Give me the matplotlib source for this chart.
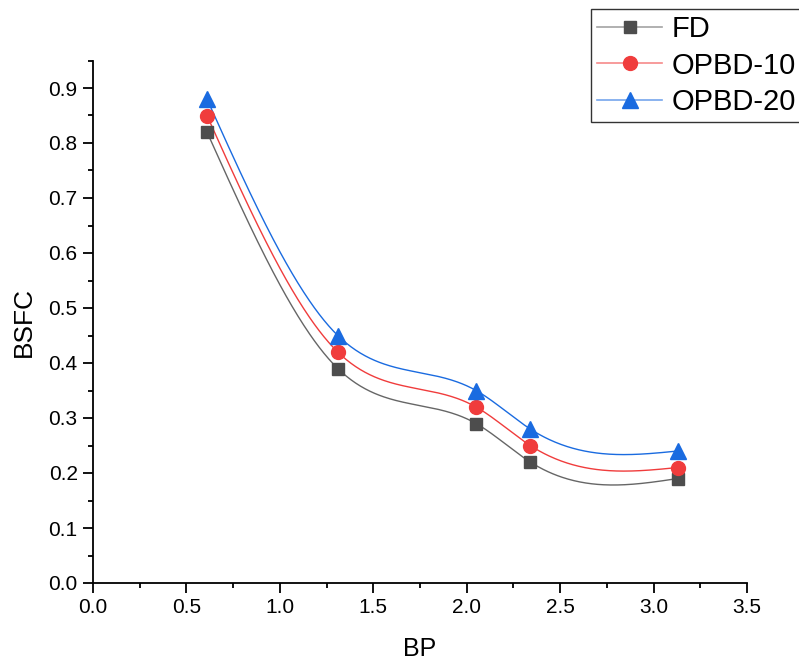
import numpy as np
import matplotlib
matplotlib.use('Agg')
import matplotlib.pyplot as plt
from matplotlib.ticker import MultipleLocator, AutoMinorLocator, FormatStrFormatter

plt.rcParams['font.family'] = ['Liberation Sans', 'DejaVu Sans']

# data
bp = [0.61, 1.31, 2.05, 2.34, 3.13]
fd = [0.82, 0.39, 0.29, 0.22, 0.19]
opbd10 = [0.85, 0.42, 0.32, 0.25, 0.21]
opbd20 = [0.88, 0.45, 0.35, 0.28, 0.24]


def natural_spline(x, y, xs):
    # natural cubic spline through the points (like Origin's spline connect)
    x = np.asarray(x, float)
    y = np.asarray(y, float)
    n = len(x)
    h = np.diff(x)
    A = np.zeros((n, n))
    r = np.zeros(n)
    A[0, 0] = A[-1, -1] = 1
    for i in range(1, n - 1):
        A[i, i - 1] = h[i - 1]
        A[i, i] = 2 * (h[i - 1] + h[i])
        A[i, i + 1] = h[i]
        r[i] = 6 * ((y[i + 1] - y[i]) / h[i] - (y[i] - y[i - 1]) / h[i - 1])
    m = np.linalg.solve(A, r)
    idx = np.clip(np.searchsorted(x, xs) - 1, 0, n - 2)
    x0, x1 = x[idx], x[idx + 1]
    hh = x1 - x0
    t0 = x1 - xs
    t1 = xs - x0
    return (m[idx] * t0 ** 3 / (6 * hh) + m[idx + 1] * t1 ** 3 / (6 * hh)
            + (y[idx] / hh - m[idx] * hh / 6) * t0
            + (y[idx + 1] / hh - m[idx + 1] * hh / 6) * t1)


fig = plt.figure(figsize=(7.99, 6.63), dpi=100)
ax = fig.add_axes([93 / 799, 1 - 583 / 663, (747 - 93) / 799, (583 - 60.5) / 663])

series = [
    ('FD', fd, '#4d4d4d', '#666666', 's', 9),
    ('OPBD-10', opbd10, '#f03c3c', '#f03c3c', 'o', 10),
    ('OPBD-20', opbd20, '#1a6be0', '#1a6be0', '^', 11),
]
xs = np.linspace(bp[0], bp[-1], 400)
for name, ys, mcol, lcol, mk, ms in series:
    ax.plot(xs, natural_spline(bp, ys, xs), color=lcol, lw=1.0, zorder=2)
    ax.plot(bp, ys, linestyle='none', marker=mk, ms=ms, color=mcol, zorder=3)

# legend handles: pale line, solid marker
handles = []
for name, ys, mcol, lcol, mk, ms in series:
    ln, = ax.plot([], [], color=matplotlib.colors.to_rgba(lcol, 0.6), lw=1.2,
                  marker=mk, ms=ms, mfc=mcol, mec=mcol, label=name)
    handles.append(ln)

ax.set_xlim(0, 3.5)
ax.set_ylim(0, 0.95)
ax.xaxis.set_major_locator(MultipleLocator(0.5))
ax.xaxis.set_minor_locator(AutoMinorLocator(2))
ax.yaxis.set_major_locator(MultipleLocator(0.1))
ax.yaxis.set_minor_locator(AutoMinorLocator(2))
ax.xaxis.set_major_formatter(FormatStrFormatter('%.1f'))
ax.yaxis.set_major_formatter(FormatStrFormatter('%.1f'))

for s in ['top', 'right']:
    ax.spines[s].set_visible(False)
for s in ['left', 'bottom']:
    ax.spines[s].set_linewidth(1.3)
ax.tick_params(which='major', direction='out', length=7, width=1.3, labelsize=15, pad=4)
ax.tick_params(which='minor', direction='out', length=3.5, width=1.3)

ax.set_xlabel('BP', fontsize=18, labelpad=14)
ax.set_ylabel('BSFC', fontsize=19, labelpad=9)

leg = fig.legend(handles=handles, loc='upper left',
                 bbox_to_anchor=(591 / 799, 1 - 9 / 663),
                 bbox_transform=fig.transFigure, fontsize=21, frameon=True,
                 fancybox=False, borderaxespad=0, handlelength=2.25,
                 handletextpad=0.3, labelspacing=0.3, borderpad=0.2)
leg.get_frame().set_edgecolor('black')
leg.get_frame().set_linewidth(1.0)

fig.savefig('out.png', dpi=100)
